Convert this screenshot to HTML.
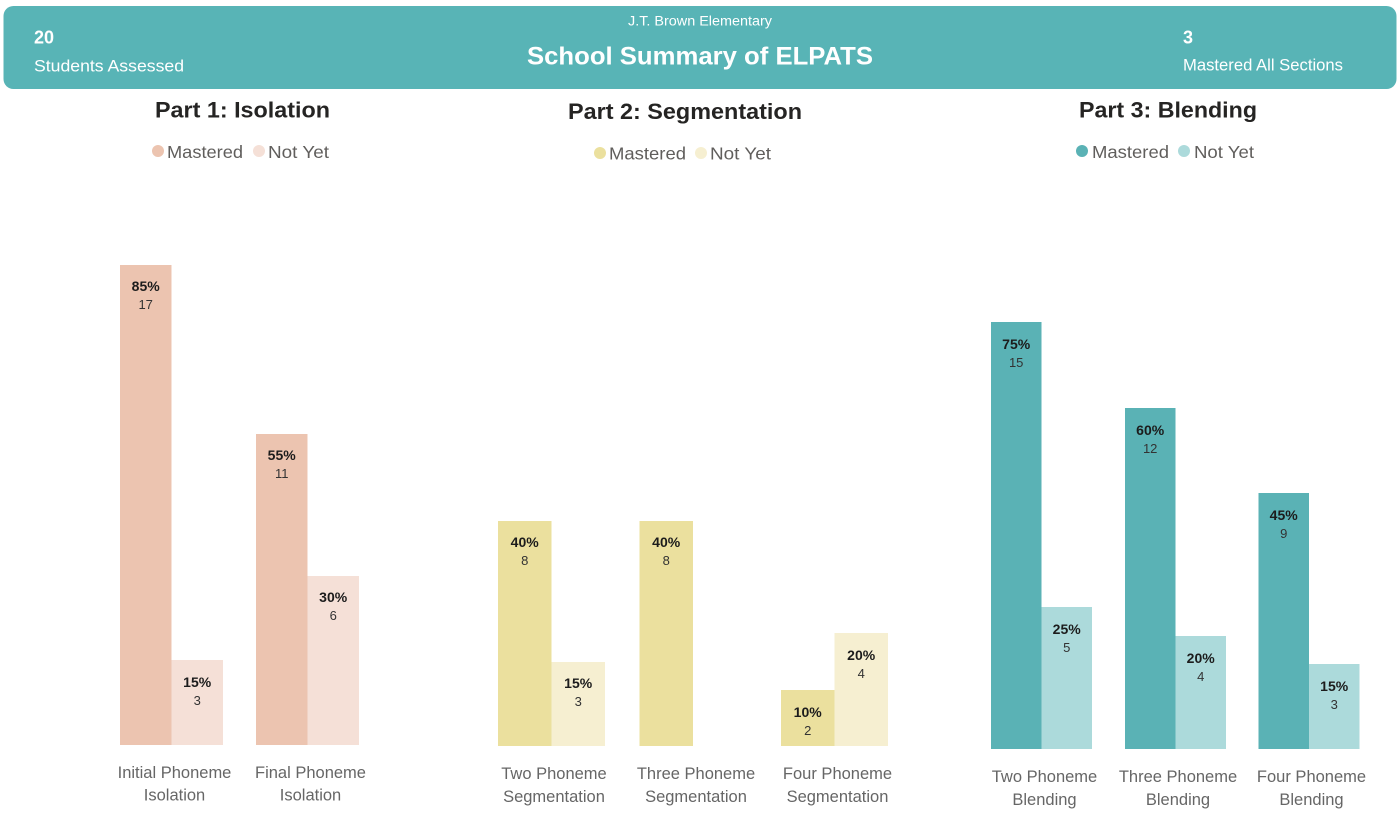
<!DOCTYPE html>
<html>
<head>
<meta charset="utf-8">
<style>
  html,body{margin:0;padding:0;background:#ffffff;}
  svg{display:block;}
  text{font-family:"Liberation Sans", "DejaVu Sans", sans-serif;}
  .pct{font-weight:bold;font-size:14px;fill:#1c1c1c;text-anchor:middle;}
  .cnt{font-size:13px;fill:#333;text-anchor:middle;}
  .ax{font-size:16.5px;fill:#666;text-anchor:middle;}
  .ttl{font-weight:bold;font-size:22px;fill:#252423;text-anchor:middle;}
  .lg{font-size:17.5px;fill:#605e5c;}
</style>
</head>
<body>
<svg width="1400" height="820" viewBox="0 0 1400 820" xmlns="http://www.w3.org/2000/svg">
  <!-- Header -->
  <rect x="3.5" y="6" width="1393" height="83" rx="10" ry="10" fill="#58b4b6"/>
  <text x="34" y="43.5" font-size="18" font-weight="bold" fill="#ffffff">20</text>
  <text x="34" y="71.5" font-size="17" fill="#ffffff" textLength="150" lengthAdjust="spacingAndGlyphs">Students Assessed</text>
  <text x="700" y="25.5" font-size="13.5" fill="#ffffff" text-anchor="middle" textLength="144" lengthAdjust="spacingAndGlyphs">J.T. Brown Elementary</text>
  <text x="700" y="64.5" font-size="25" font-weight="bold" fill="#ffffff" text-anchor="middle" textLength="346" lengthAdjust="spacingAndGlyphs">School Summary of ELPATS</text>
  <text x="1183" y="43.5" font-size="18" font-weight="bold" fill="#ffffff">3</text>
  <text x="1183" y="70.5" font-size="16.5" fill="#ffffff" textLength="160" lengthAdjust="spacingAndGlyphs">Mastered All Sections</text>

  <!-- Part 1 -->
  <text class="ttl" x="242.5" y="117.5" textLength="175" lengthAdjust="spacingAndGlyphs">Part 1: Isolation</text>
  <circle cx="158" cy="151" r="6" fill="#ecc4b0"/>
  <text class="lg" x="167" y="158" textLength="76" lengthAdjust="spacingAndGlyphs">Mastered</text>
  <circle cx="259" cy="151" r="6" fill="#f5e0d7"/>
  <text class="lg" x="268" y="158" textLength="61" lengthAdjust="spacingAndGlyphs">Not Yet</text>

  <rect x="120" y="265" width="51.5" height="480" fill="#ecc4b0"/>
  <rect x="171.5" y="660" width="51.5" height="85" fill="#f5e0d7"/>
  <rect x="256" y="434" width="51.5" height="311" fill="#ecc4b0"/>
  <rect x="307.5" y="576" width="51.5" height="169" fill="#f5e0d7"/>
  <text class="pct" x="145.7" y="291">85%</text><text class="cnt" x="145.7" y="309">17</text>
  <text class="pct" x="197.2" y="687">15%</text><text class="cnt" x="197.2" y="705">3</text>
  <text class="pct" x="281.7" y="460">55%</text><text class="cnt" x="281.7" y="478">11</text>
  <text class="pct" x="333.2" y="602">30%</text><text class="cnt" x="333.2" y="620">6</text>
  <text class="ax" x="174.5" y="778">Initial Phoneme</text><text class="ax" x="174.5" y="800.5">Isolation</text>
  <text class="ax" x="310.5" y="778">Final Phoneme</text><text class="ax" x="310.5" y="800.5">Isolation</text>

  <!-- Part 2 -->
  <text class="ttl" x="685" y="119" textLength="234" lengthAdjust="spacingAndGlyphs">Part 2: Segmentation</text>
  <circle cx="600" cy="153" r="6" fill="#ebe09e"/>
  <text class="lg" x="609" y="159.5" textLength="77" lengthAdjust="spacingAndGlyphs">Mastered</text>
  <circle cx="701" cy="153" r="6" fill="#f6efd1"/>
  <text class="lg" x="710" y="159.5" textLength="61" lengthAdjust="spacingAndGlyphs">Not Yet</text>

  <rect x="498" y="521" width="53.5" height="225" fill="#ebe09e"/>
  <rect x="551.5" y="662" width="53.5" height="84" fill="#f6efd1"/>
  <rect x="639.5" y="521" width="53.5" height="225" fill="#ebe09e"/>
  <rect x="781" y="690" width="53.5" height="56" fill="#ebe09e"/>
  <rect x="834.5" y="633" width="53.5" height="113" fill="#f6efd1"/>
  <text class="pct" x="524.7" y="547">40%</text><text class="cnt" x="524.7" y="565">8</text>
  <text class="pct" x="578.2" y="688">15%</text><text class="cnt" x="578.2" y="706">3</text>
  <text class="pct" x="666.2" y="547">40%</text><text class="cnt" x="666.2" y="565">8</text>
  <text class="pct" x="807.7" y="717">10%</text><text class="cnt" x="807.7" y="735">2</text>
  <text class="pct" x="861.2" y="660">20%</text><text class="cnt" x="861.2" y="678">4</text>
  <text class="ax" x="554" y="779">Two Phoneme</text><text class="ax" x="554" y="802">Segmentation</text>
  <text class="ax" x="696" y="779">Three Phoneme</text><text class="ax" x="696" y="802">Segmentation</text>
  <text class="ax" x="837.5" y="779">Four Phoneme</text><text class="ax" x="837.5" y="802">Segmentation</text>

  <!-- Part 3 -->
  <text class="ttl" x="1168" y="117.5" textLength="178" lengthAdjust="spacingAndGlyphs">Part 3: Blending</text>
  <circle cx="1082" cy="151" r="6" fill="#5ab2b5"/>
  <text class="lg" x="1092" y="158" textLength="77" lengthAdjust="spacingAndGlyphs">Mastered</text>
  <circle cx="1184" cy="151" r="6" fill="#acdadb"/>
  <text class="lg" x="1194" y="158" textLength="60" lengthAdjust="spacingAndGlyphs">Not Yet</text>

  <rect x="991" y="322" width="50.5" height="427" fill="#5ab2b5"/>
  <rect x="1041.5" y="607" width="50.5" height="142" fill="#acdadb"/>
  <rect x="1125" y="408" width="50.5" height="341" fill="#5ab2b5"/>
  <rect x="1175.5" y="636" width="50.5" height="113" fill="#acdadb"/>
  <rect x="1258.5" y="493" width="50.5" height="256" fill="#5ab2b5"/>
  <rect x="1309" y="664" width="50.5" height="85" fill="#acdadb"/>
  <text class="pct" x="1016.2" y="349">75%</text><text class="cnt" x="1016.2" y="367">15</text>
  <text class="pct" x="1066.7" y="634">25%</text><text class="cnt" x="1066.7" y="652">5</text>
  <text class="pct" x="1150.2" y="435">60%</text><text class="cnt" x="1150.2" y="453">12</text>
  <text class="pct" x="1200.7" y="663">20%</text><text class="cnt" x="1200.7" y="681">4</text>
  <text class="pct" x="1283.7" y="520">45%</text><text class="cnt" x="1283.7" y="538">9</text>
  <text class="pct" x="1334.2" y="691">15%</text><text class="cnt" x="1334.2" y="709">3</text>
  <text class="ax" x="1044.5" y="782">Two Phoneme</text><text class="ax" x="1044.5" y="805">Blending</text>
  <text class="ax" x="1178" y="782">Three Phoneme</text><text class="ax" x="1178" y="805">Blending</text>
  <text class="ax" x="1311.5" y="782">Four Phoneme</text><text class="ax" x="1311.5" y="805">Blending</text>
</svg>
</body>
</html>
